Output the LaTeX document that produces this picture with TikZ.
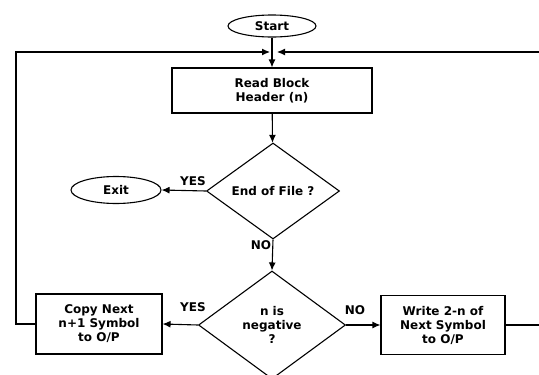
\documentclass[tikz,border=0pt]{standalone}
\usepackage{fontspec}
\setmainfont{DejaVu Sans}
\usetikzlibrary{shapes.geometric,arrows.meta}
\begin{document}
\begin{tikzpicture}[x=1pt,y=-1pt,
  every node/.style={font=\bfseries\fontsize{12}{14}\selectfont},
  line/.style={draw=black,line width=1.1pt},
  arr/.style={line,-{Latex[length=8pt,width=7pt]}},
  term/.style={ellipse,draw,line width=1.1pt,inner sep=0pt},
  proc/.style={rectangle,draw,line width=1.1pt,align=center,inner sep=0pt},
  dec/.style={diamond,draw,line width=1.1pt,align=center,inner sep=0pt,aspect=1.4},
  lbl/.style={inner sep=0pt}]
\useasboundingbox (0,0) rectangle (539,375);
% terminals
\node[term,minimum width=88pt,minimum height=22pt] (start) at (272,26) {Start};
\node[term,minimum width=90pt,minimum height=27pt] (exit) at (116,190) {Exit};
% processes
\node[proc,minimum width=200pt,minimum height=45pt] (read) at (272,90.5) {Read Block\\Header (n)};
\node[proc,minimum width=126pt,minimum height=60pt] (copy) at (99,324) {Copy Next\\n+1 Symbol\\to O/P};
\node[proc,minimum width=124pt,minimum height=59pt] (write) at (443,325) {Write 2-n of\\Next Symbol\\to O/P};
% decisions
\node[dec,minimum width=133pt,minimum height=96pt] (eof) at (273,191) {End of File ?};
\node[dec,minimum width=147pt,minimum height=108pt] (neg) at (272,325) {n is\\negative\\?};
% loop-back junction
\coordinate (jl) at (270,52);
\coordinate (jr) at (277,52);
\coordinate (lc) at (16,52);
\coordinate (rc) at (560,52);
% connectors
\draw[arr] (start) -- (read);
\draw[arr] (read) -- (eof);
\draw[arr] (eof.west) -- (exit.east);
\draw[arr] (eof.south) -- (neg.north);
\draw[arr] (neg.west) -- (copy.east);
\draw[arr] (neg.east) -- (write.west);
\draw[arr] (copy.west) -| (lc) -- (jl);
\draw[arr] (write.east) -| (rc) -- (jr);
% branch labels
\node[lbl] at (193,181) {YES};
\node[lbl] at (261,245) {NO};
\node[lbl] at (193,307) {YES};
\node[lbl] at (355,310) {NO};
\end{tikzpicture}
\end{document}
